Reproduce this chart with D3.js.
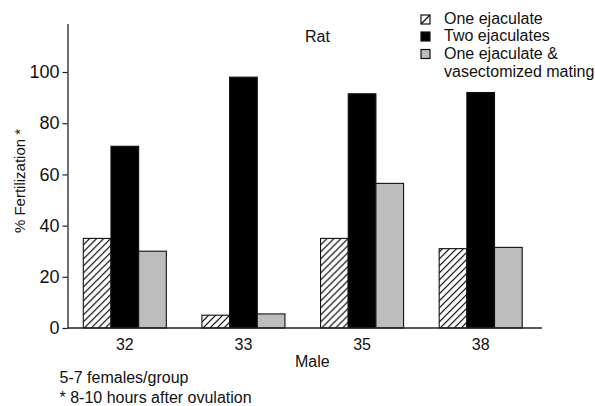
<!DOCTYPE html>
<html>
<head>
<meta charset="utf-8">
<script src="https://cdn.jsdelivr.net/npm/d3@7/dist/d3.min.js"></script>
<style>
  html, body { margin: 0; padding: 0; background: #fff; }
  svg { display: block; font-family: "Liberation Sans", Arial, Helvetica, sans-serif; }
  text { fill: #111; }
</style>
</head>
<body>
<svg id="chart" width="595" height="406"></svg>
<script>
// Fertilization rate by male, three mating conditions
const males = ["32", "33", "35", "38"];
const seriesNames = ["One ejaculate", "Two ejaculates", "One ejaculate & vasectomized mating"];
const oneEjaculate = [35, 5, 35, 31];
const twoEjaculates = [71, 98, 91.5, 92];
const oneEjaculateVasectomized = [30, 5.5, 56.5, 31.5];
const yTicks = [0, 20, 40, 60, 80, 100];
const legendLines = [["One ejaculate"], ["Two ejaculates"], ["One ejaculate &", "vasectomized mating"]];

const seriesValues = [oneEjaculate, twoEjaculates, oneEjaculateVasectomized];
const fills = ["url(#hatch)", "#000", "#bdbdbd"];

const svg = d3.select("#chart");
const defs = svg.append("defs");

// diagonal hatch for the single-ejaculate bars
const hatch = defs.append("pattern")
  .attr("id", "hatch")
  .attr("patternUnits", "userSpaceOnUse")
  .attr("width", 7).attr("height", 7);
hatch.append("rect").attr("width", 7).attr("height", 7).attr("fill", "#fff");
hatch.append("path")
  .attr("d", "M-1,1 l2,-2 M0,7 l7,-7 M6,8 l2,-2")
  .attr("stroke", "#000").attr("stroke-width", 1.2);

const axisX = 67.5;
const y = d3.scaleLinear().domain([0, 119]).range([328, 23.4]);
const x = d3.scaleBand().domain(males).range([65.5, 540]).paddingInner(0.3).paddingOuter(0.15);
const xs = d3.scaleBand().domain(d3.range(seriesNames.length)).range([0, x.bandwidth()]);

// bars
const groups = svg.append("g").selectAll("g")
  .data(males)
  .join("g")
  .attr("transform", d => `translate(${x(d)},0)`);

groups.selectAll("rect")
  .data((m, i) => seriesValues.map((vals, s) => ({ s, v: vals[i] })))
  .join("rect")
  .attr("x", d => xs(d.s))
  .attr("width", xs.bandwidth())
  .attr("y", d => y(d.v))
  .attr("height", d => y(0) - y(d.v))
  .attr("fill", d => fills[d.s])
  .attr("stroke", "#111")
  .attr("stroke-width", 1.1);

// y axis
const yAxis = svg.append("g")
  .attr("transform", `translate(${axisX},0)`)
  .call(d3.axisLeft(y).tickValues(yTicks).tickSize(5).tickSizeOuter(0).tickPadding(3));
yAxis.select(".domain").attr("stroke", "#222").attr("stroke-width", 1.3);
yAxis.selectAll(".tick line").attr("stroke", "#222").attr("stroke-width", 1.2);
yAxis.selectAll("text").attr("font-size", 18).attr("font-family", null).attr("fill", "#111");

// x axis baseline and category labels
const xAxis = svg.append("g")
  .attr("transform", `translate(0,${y(0)})`)
  .call(d3.axisBottom(x).tickSize(0).tickPadding(10.5));
xAxis.select(".domain").remove();
xAxis.append("line")
  .attr("x1", axisX).attr("x2", x.range()[1] + 2)
  .attr("y1", 0).attr("y2", 0)
  .attr("stroke", "#222").attr("stroke-width", 1.4);
xAxis.selectAll("text").attr("font-size", 16).attr("font-family", null).attr("fill", "#111");

// axis titles
svg.append("text")
  .attr("transform", "translate(25,181) rotate(-90)")
  .attr("text-anchor", "middle")
  .attr("font-size", 15)
  .text("% Fertilization *");

svg.append("text")
  .attr("x", 295).attr("y", 367)
  .attr("font-size", 16)
  .text("Male");

svg.append("text")
  .attr("x", 305).attr("y", 42)
  .attr("font-size", 16)
  .text("Rat");

// legend
const legend = svg.append("g").attr("transform", "translate(421,0)");
const rowY = [19.5, 36.5, 54];
legendLines.forEach((lines, i) => {
  const g = legend.append("g").attr("transform", `translate(0,${rowY[i]})`);
  g.append("rect")
    .attr("x", 0).attr("y", -4.5).attr("width", 9).attr("height", 9)
    .attr("fill", i === 0 ? "#fff" : fills[i])
    .attr("stroke", "#111").attr("stroke-width", 1.2);
  if (i === 0) {
    g.append("line")
      .attr("x1", 0).attr("y1", 4.5).attr("x2", 9).attr("y2", -4.5)
      .attr("stroke", "#111").attr("stroke-width", 1.2);
  }
  lines.forEach((t, k) => {
    g.append("text")
      .attr("x", 23).attr("y", 4.8 + k * 17.7)
      .attr("font-size", 16)
      .text(t);
  });
});

// footnotes
svg.append("text").attr("x", 59.5).attr("y", 383).attr("font-size", 16).text("5-7 females/group");
svg.append("text").attr("x", 59.5).attr("y", 403).attr("font-size", 16).text("* 8-10 hours after ovulation");
</script>
</body>
</html>
